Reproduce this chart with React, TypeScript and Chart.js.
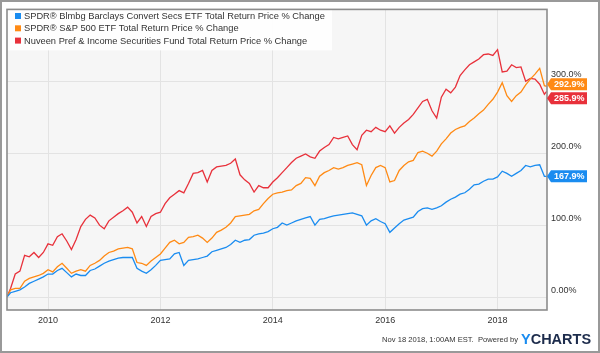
import React, { useEffect, useRef } from "react";
import { Chart, registerables } from "chart.js";

Chart.register(...registerables);

const seriesNames = [
  "SPDR® Blmbg Barclays Convert Secs ETF Total Return Price % Change",
  "SPDR® S&P 500 ETF Total Return Price % Change",
  "Nuveen Pref & Income Securities Fund Total Return Price % Change",
];
const seriesColors = ["#1a8cf0", "#ff8a14", "#e8313b"];

const dates = [
  "2009-04-08",
  "2009-05", "2009-06", "2009-07", "2009-08", "2009-09", "2009-10", "2009-11", "2009-12",
  "2010-01", "2010-02", "2010-03", "2010-04", "2010-05", "2010-06", "2010-07", "2010-08", "2010-09", "2010-10", "2010-11", "2010-12",
  "2011-01", "2011-02", "2011-03", "2011-04", "2011-05", "2011-06", "2011-07", "2011-08", "2011-09", "2011-10", "2011-11", "2011-12",
  "2012-01", "2012-02", "2012-03", "2012-04", "2012-05", "2012-06", "2012-07", "2012-08", "2012-09", "2012-10", "2012-11", "2012-12",
  "2013-01", "2013-02", "2013-03", "2013-04", "2013-05", "2013-06", "2013-07", "2013-08", "2013-09", "2013-10", "2013-11", "2013-12",
  "2014-01", "2014-02", "2014-03", "2014-04", "2014-05", "2014-06", "2014-07", "2014-08", "2014-09", "2014-10", "2014-11", "2014-12",
  "2015-01", "2015-02", "2015-03", "2015-04", "2015-05", "2015-06", "2015-07", "2015-08", "2015-09", "2015-10", "2015-11", "2015-12",
  "2016-01", "2016-02", "2016-03", "2016-04", "2016-05", "2016-06", "2016-07", "2016-08", "2016-09", "2016-10", "2016-11", "2016-12",
  "2017-01", "2017-02", "2017-03", "2017-04", "2017-05", "2017-06", "2017-07", "2017-08", "2017-09", "2017-10", "2017-11", "2017-12",
  "2018-01", "2018-02", "2018-03", "2018-04", "2018-05", "2018-06", "2018-07", "2018-08", "2018-09", "2018-10", "2018-11",
  "2018-11-16",
];

const cwbValues = [
  0,
  6, 8, 10, 14, 19, 22, 25, 28,
  32, 32, 37, 40, 34, 28, 32, 30, 30, 37, 39, 43,
  47, 50, 52, 54, 55, 55, 55, 40, 36, 33, 38, 44,
  51, 52, 53, 60, 62, 44, 51, 52, 53, 55, 57, 63,
  65, 67, 69, 73, 79, 76, 79, 80, 86, 88, 89, 91,
  95, 97, 103, 100, 103, 106, 108, 110, 112, 100, 108, 109,
  111, 113, 114, 115, 116, 117, 115, 113, 100, 106, 109, 105,
  102, 90, 96, 102, 107, 109, 111, 119, 123, 124, 122, 124,
  127, 132, 136, 139, 143, 145, 150, 156, 157, 161, 164, 164,
  167, 175, 172, 168, 172, 176, 183, 181, 183, 184, 168,
  167.9,
];

const spyValues = [
  0,
  10, 12, 12, 22, 26, 28, 30, 33,
  38, 35, 42, 47, 40, 33, 36, 38, 36, 44, 47, 51,
  57, 62, 64, 67, 68, 69, 67, 48, 47, 44, 50, 55,
  60, 68, 76, 79, 74, 76, 83, 84, 86, 82, 76, 82,
  90, 93, 97, 103, 112, 113, 114, 115, 120, 122, 130, 137,
  143, 145, 146, 148, 149, 155, 158, 166, 165, 155, 168, 173,
  176, 180, 178, 180, 183, 185, 187, 184, 155, 169, 180, 183,
  180, 160, 162, 176, 183, 188, 190, 201, 203, 200, 196, 203,
  213, 220, 228, 233, 236, 238, 244, 249, 255, 260, 268, 275,
  285, 298, 280, 272, 280, 285, 295, 303, 310, 318, 294,
  292.9,
];

const jpcValues = [
  0,
  12, 32, 36, 58, 56, 62, 55, 62,
  74, 72, 84, 88, 78, 66, 80, 98, 108, 114, 110, 100,
  95, 106, 111, 116, 120, 125, 118, 103, 112, 98, 112, 116,
  118, 130, 138, 143, 148, 145, 158, 172, 173, 176, 160, 176,
  181, 182, 183, 186, 192, 170, 163, 158, 146, 155, 152, 152,
  160, 166, 173, 180, 187, 193, 196, 199, 195, 193, 203, 208,
  212, 222, 220, 222, 224, 212, 205, 225, 232, 230, 236, 232,
  230, 238, 228, 236, 242, 247, 254, 263, 272, 275, 259, 249,
  278, 289, 284, 292, 308, 316, 323, 327, 331, 337, 338, 336,
  344, 313, 314, 323, 319, 320, 300, 304, 303, 296, 282,
  285.9,
];

const xTickYears = [2010, 2012, 2014, 2016, 2018];
const yTickValues = [0, 100, 200, 300];
const yTickLabels = ["0.00%", "100.0%", "200.0%", "300.0%"];
const footerText = "Nov 18 2018, 1:00AM EST.  Powered by";
const FONT = '"Liberation Sans", Arial, sans-serif';

function toYear(s: string): number {
  const parts = s.split("-").map(Number);
  const y = parts[0];
  const m = parts[1];
  const d = parts.length > 2 ? parts[2] : 1;
  return y + (m - 1) / 12 + (d - 1) / 365;
}

const decorPlugin = {
  id: "decor",
  beforeDraw(chart: any) {
    const { ctx, chartArea: a, width, height } = chart;
    ctx.save();
    ctx.fillStyle = "#ffffff";
    ctx.fillRect(0, 0, width, height);
    ctx.fillStyle = "#f6f6f6";
    ctx.fillRect(a.left, a.top, a.right - a.left, a.bottom - a.top);
    ctx.restore();
  },
  afterDraw(chart: any) {
    const { ctx, chartArea: a, width, height } = chart;
    const yScale = chart.scales.y;
    ctx.save();

    // legend box
    ctx.fillStyle = "rgba(255,255,255,0.9)";
    ctx.fillRect(a.left, a.top, 325, 41);
    ctx.font = `9.3px ${FONT}`;
    ctx.textBaseline = "middle";
    ctx.textAlign = "left";
    const rows = [16, 28.3, 40.6];
    seriesNames.forEach((name, i) => {
      ctx.fillStyle = seriesColors[i];
      ctx.fillRect(15, rows[i] - 3, 6, 6);
      ctx.fillStyle = "#333333";
      ctx.fillText(name, 24, rows[i] + 0.5);
    });

    // plot frame
    ctx.strokeStyle = "#8c8c8c";
    ctx.lineWidth = 1.6;
    ctx.strokeRect(a.left, a.top, a.right - a.left, a.bottom - a.top);

    // value tags
    const lastVals = [cwbValues, spyValues, jpcValues].map((arr) => arr[arr.length - 1]);
    const tags = lastVals.map((v, i) => ({ v, i, y: yScale.getPixelForValue(v) }));
    tags.sort((p, q) => p.y - q.y);
    const minGap = 14;
    for (let k = 1; k < tags.length; k++) {
      const gap = tags[k].y - tags[k - 1].y;
      if (gap < minGap) {
        const d = minGap - gap;
        tags[k - 1].y -= d * 0.25;
        tags[k].y += d * 0.75;
      }
    }
    ctx.font = `bold 9px ${FONT}`;
    tags.forEach((t) => {
      const x0 = a.right;
      ctx.fillStyle = seriesColors[t.i];
      ctx.beginPath();
      ctx.moveTo(x0, t.y);
      ctx.lineTo(x0 + 4, t.y - 6);
      ctx.lineTo(x0 + 40, t.y - 6);
      ctx.lineTo(x0 + 40, t.y + 6);
      ctx.lineTo(x0 + 4, t.y + 6);
      ctx.closePath();
      ctx.fill();
      ctx.fillStyle = "#ffffff";
      ctx.textAlign = "left";
      ctx.textBaseline = "middle";
      ctx.fillText(t.v.toFixed(1) + "%", x0 + 7, t.y + 0.5);
    });

    // footer
    ctx.textBaseline = "alphabetic";
    ctx.textAlign = "right";
    ctx.fillStyle = "#333333";
    ctx.font = `7.6px ${FONT}`;
    ctx.fillText(footerText, 518, 342);
    ctx.textAlign = "left";
    ctx.font = `bold 14.5px ${FONT}`;
    ctx.fillStyle = "#1a8cf0";
    ctx.fillText("Y", 521, 344);
    const yw = ctx.measureText("Y").width;
    ctx.fillStyle = "#1d2c4c";
    ctx.fillText("CHARTS", 521 + yw, 344);

    // outer border
    ctx.strokeStyle = "#999999";
    ctx.lineWidth = 2;
    ctx.strokeRect(1, 1, width - 2, height - 2);
    ctx.restore();
  },
};

export default function App() {
  const canvasRef = useRef<HTMLCanvasElement | null>(null);

  useEffect(() => {
    document.body.style.margin = "0";
    const canvas = canvasRef.current;
    if (!canvas) return;
    const xs = dates.map(toYear);
    const mk = (vals: number[]) => vals.map((v, i) => ({ x: xs[i], y: v }));
    const chart = new Chart(canvas, {
      type: "line",
      data: {
        datasets: [
          { label: seriesNames[0], data: mk(cwbValues), borderColor: seriesColors[0] },
          { label: seriesNames[1], data: mk(spyValues), borderColor: seriesColors[1] },
          { label: seriesNames[2], data: mk(jpcValues), borderColor: seriesColors[2] },
        ].map((d) => ({ ...d, borderWidth: 1.3, pointRadius: 0, tension: 0, fill: false })),
      },
      options: {
        responsive: false,
        animation: false,
        layout: { padding: { left: 7, top: 7, right: 0, bottom: 0 } },
        plugins: { legend: { display: false }, tooltip: { enabled: false } },
        scales: {
          x: {
            type: "linear",
            min: 2009.27,
            max: 2018.88,
            afterBuildTicks: (scale: any) => {
              scale.ticks = xTickYears.map((v) => ({ value: v }));
            },
            afterFit: (scale: any) => {
              scale.height = 43;
            },
            grid: { color: "#e3e3e3", lineWidth: 1, drawTicks: false },
            border: { display: false },
            ticks: {
              padding: 5,
              color: "#333333",
              font: { family: FONT, size: 9 },
              maxRotation: 0,
              autoSkip: false,
              callback: (v: any) => String(v),
            },
          },
          y: {
            type: "linear",
            position: "right",
            min: -18,
            max: 400,
            afterBuildTicks: (scale: any) => {
              scale.ticks = yTickValues.map((v) => ({ value: v }));
            },
            afterFit: (scale: any) => {
              scale.width = 53;
            },
            grid: { color: "#e3e3e3", lineWidth: 1, drawTicks: false },
            border: { display: false },
            ticks: {
              padding: 4,
              labelOffset: -7,
              color: "#333333",
              font: { family: FONT, size: 9 },
              autoSkip: false,
              callback: (_v: any, i: number) => yTickLabels[i],
            },
          },
        },
      },
      plugins: [decorPlugin],
    } as any);
    return () => chart.destroy();
  }, []);

  return (
    <div style={{ width: 600, height: 353, position: "relative" }}>
      <canvas ref={canvasRef} width={600} height={353} style={{ display: "block" }} />
    </div>
  );
}
